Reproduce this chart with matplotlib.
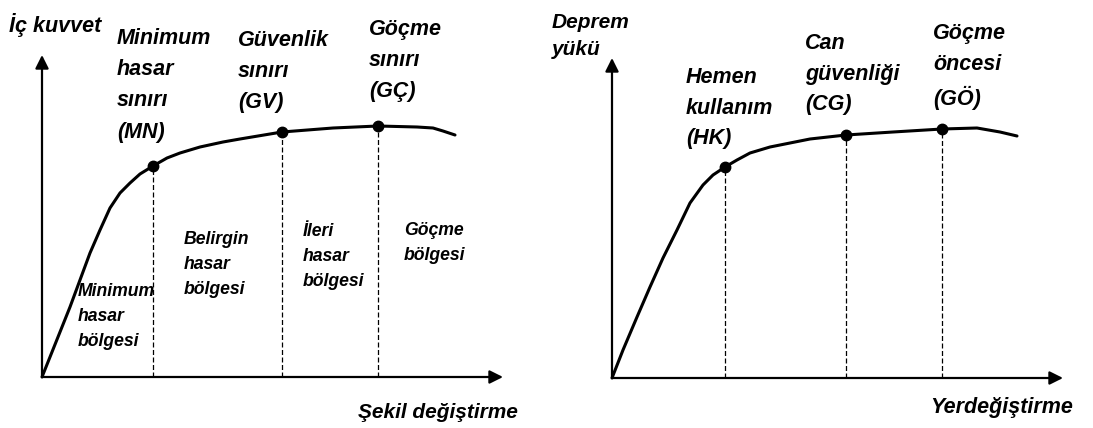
import numpy as np
import matplotlib.pyplot as plt

plt.rcParams['font.family'] = ['Liberation Sans', 'DejaVu Sans']

# left panel: capacity curve (internal force vs deformation), arbitrary units
left_x = [0, 8, 18, 28, 38, 48, 58, 68, 78, 88, 98, 111, 125, 138, 158, 181, 198,
          240, 291, 336, 375, 391, 401, 413]
left_y = [0, 20, 45, 70, 97, 124, 147, 169, 184, 194, 203, 211, 219, 224, 230, 235, 238,
          245, 249, 251, 250, 249, 246, 242]
left_pts_x = [111, 240, 336]
left_pts_y = [211, 245, 251]
left_pt_labels = ["Minimum\nhasar\nsınırı\n(MN)", "Güvenlik\nsınırı\n(GV)", "Göçme\nsınırı\n(GÇ)"]
left_zones = ["Minimum\nhasar\nbölgesi", "Belirgin\nhasar\nbölgesi", "İleri\nhasar\nbölgesi", "Göçme\nbölgesi"]

# right panel: earthquake load vs displacement
right_x = [0, 11, 25, 38, 51, 65, 78, 91, 101, 113, 125, 138, 158, 178, 198,
           234, 281, 330, 365, 388, 405]
right_y = [0, 28, 61, 91, 120, 148, 175, 193, 203, 211, 218, 225, 231, 235, 239,
           243, 246, 249, 250, 246, 242]
right_pts_x = [113, 234, 330]
right_pts_y = [211, 243, 249]
right_pt_labels = ["Hemen\nkullanım\n(HK)", "Can\ngüvenliği\n(CG)", "Göçme\nöncesi\n(GÖ)"]

fig = plt.figure(figsize=(10.93, 4.28), dpi=100)
W, H = 1093, 428

# axes placed so that one data unit is one pixel
axL = fig.add_axes([0, 0, 546 / W, 1])
axL.set_xlim(-42, 504)
axL.set_ylim(-51, 377)
axR = fig.add_axes([546 / W, 0, 547 / W, 1])
axR.set_xlim(-66, 481)
axR.set_ylim(-50, 378)

font = dict(fontweight='bold', fontstyle='italic', color='black')


def draw_panel(ax, xs, ys, px, py, xmax, ymax):
    ax.axis('off')
    ax.annotate('', xy=(xmax, 0), xytext=(0, 0),
                arrowprops=dict(arrowstyle='-|>', lw=1.6, color='black',
                                mutation_scale=20, shrinkA=0, shrinkB=0))
    ax.annotate('', xy=(0, ymax), xytext=(0, 0),
                arrowprops=dict(arrowstyle='-|>', lw=1.6, color='black',
                                mutation_scale=20, shrinkA=0, shrinkB=0))
    ax.plot(xs, ys, color='black', lw=2.2, solid_capstyle='round', solid_joinstyle='round')
    for x, y in zip(px, py):
        ax.plot([x, x], [0, y], color='black', lw=0.9, linestyle=(0, (4, 2)))
    ax.plot(px, py, 'o', color='black', markersize=7.5)


draw_panel(axL, left_x, left_y, left_pts_x, left_pts_y, 461, 322)
draw_panel(axR, right_x, right_y, right_pts_x, right_pts_y, 451, 320)

big = 15.5
small = 12.7
# left panel text
axL.text(-33, 352, "İç kuvvet", fontsize=big, va='center', ha='left', **font)
axL.text(75, 349, left_pt_labels[0], fontsize=big, va='top', ha='left', linespacing=1.64, **font)
axL.text(196, 347, left_pt_labels[1], fontsize=big, va='top', ha='left', linespacing=1.62, **font)
axL.text(327, 358, left_pt_labels[2], fontsize=big, va='top', ha='left', linespacing=1.62, **font)
axL.text(36, 94, left_zones[0], fontsize=small, va='top', ha='left', linespacing=1.62, **font)
axL.text(142, 146, left_zones[1], fontsize=small, va='top', ha='left', linespacing=1.62, **font)
axL.text(261, 154, left_zones[2], fontsize=small, va='top', ha='left', linespacing=1.62, **font)
axL.text(362, 155, left_zones[3], fontsize=small, va='top', ha='left', linespacing=1.62, **font)
axL.text(316, -36, "Şekil değiştirme", fontsize=15, va='center', ha='left', **font)

# right panel text
axR.text(-60, 365, "Deprem\nyükü", fontsize=15, va='top', ha='left', linespacing=1.55, **font)
axR.text(74, 311, right_pt_labels[0], fontsize=big, va='top', ha='left', linespacing=1.6, **font)
axR.text(193, 345, right_pt_labels[1], fontsize=big, va='top', ha='left', linespacing=1.6, **font)
axR.text(321, 355, right_pt_labels[2], fontsize=big, va='top', ha='left', linespacing=1.6, **font)
axR.text(318, -30, "Yerdeğiştirme", fontsize=big, va='center', ha='left', **font)

fig.savefig('out.png', dpi=100)
